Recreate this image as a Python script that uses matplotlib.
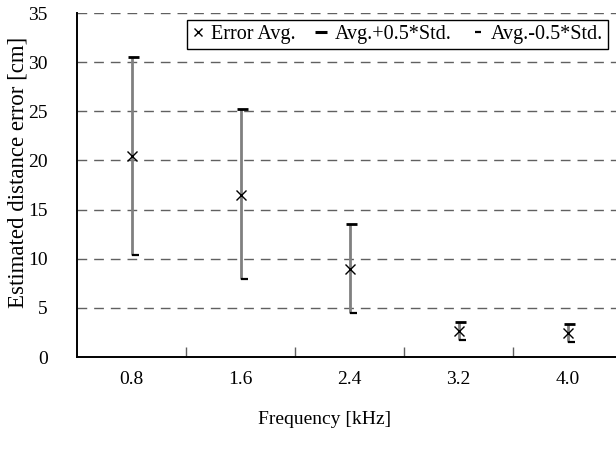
import numpy as np
import matplotlib
matplotlib.use("Agg")
import matplotlib.pyplot as plt
from matplotlib.lines import Line2D
from matplotlib.path import Path

# ---- data ----
freq_labels = ['0.8', '1.6', '2.4', '3.2', '4.0']
err_avg = [20.45, 16.5, 9.0, 2.65, 2.45]
avg_plus = [30.5, 25.2, 13.5, 3.55, 3.35]
avg_minus = [10.4, 7.9, 4.5, 1.75, 1.55]
y_ticks = [0, 5, 10, 15, 20, 25, 30, 35]
legend_labels = ['Error Avg.', 'Avg.+0.5*Std.', 'Avg.-0.5*Std.']

plt.rcParams['font.family'] = ['Liberation Serif', 'DejaVu Serif']

W, H = 616, 450
FS = 14
fig = plt.figure(figsize=(W / 100, H / 100), dpi=100)
ax_l, ax_r, ax_b, ax_t = 77, 622, 357, 13
ax = fig.add_axes([ax_l / W, (H - ax_b) / H, (ax_r - ax_l) / W, (ax_b - ax_t) / H])

x = np.arange(len(freq_labels))

# high-low lines
ax.vlines(x, avg_minus, avg_plus, colors='#808080', linewidth=2.0, zorder=3)

high_marker = Path([(-0.6, 0), (1.0, 0)], [Path.MOVETO, Path.LINETO])
low_marker = Path([(0.0, 0), (1.0, 0)], [Path.MOVETO, Path.LINETO])
ax.plot(x, avg_plus, linestyle='none', marker=high_marker, markersize=10,
        markeredgewidth=2.0, color='black', zorder=4)
ax.plot(x, avg_minus, linestyle='none', marker=low_marker, markersize=10,
        markeredgewidth=1.6, color='black', zorder=4)
ax.plot(x, err_avg, linestyle='none', marker='x', markersize=6.5,
        markeredgewidth=1.0, color='black', zorder=5)

ax.set_xlim(-0.5, len(freq_labels) - 0.5)
ax.set_ylim(0, 35)
ax.set_yticks(y_ticks)
ax.set_yticklabels([str(v) for v in y_ticks], fontsize=FS)
ax.tick_params(axis='y', length=0, pad=21)
ax.set_xticks(x)
ax.set_xticklabels(freq_labels, fontsize=FS)
ax.tick_params(axis='x', which='major', length=0, pad=10)
ax.set_xticks(np.arange(0.5, len(freq_labels) - 0.5, 1.0), minor=True)
ax.tick_params(axis='x', which='minor', direction='in', length=7, width=1.0, color='#606060')

for v in y_ticks[1:]:
    ax.axhline(v, color='#606060', linewidth=1.0, linestyle=(0, (7, 5)), zorder=1)

for s in ['top', 'right']:
    ax.spines[s].set_visible(False)
for s in ['left', 'bottom']:
    ax.spines[s].set_linewidth(1.4)
    ax.spines[s].set_color('black')

fig.text(18 / W, 1 - 172 / H, 'Estimated distance error [cm]', rotation=90,
         ha='center', va='center', fontsize=16.5)
fig.text(325 / W, 1 - 419 / H, 'Frequency [kHz]', ha='center', va='center', fontsize=FS)

handles = [
    Line2D([], [], linestyle='none', marker='x', markersize=6, markeredgewidth=1.0, color='black'),
    Line2D([], [], linestyle='none', marker='_', markersize=8, markeredgewidth=2.2, color='black'),
    Line2D([], [], linestyle='none', marker='_', markersize=5, markeredgewidth=1.6, color='black'),
]
leg = fig.legend(handles, legend_labels, loc='upper right', ncol=3,
                 bbox_to_anchor=(608 / W, 1 - 20 / H), fontsize=14.5,
                 frameon=True, fancybox=False, edgecolor='black', framealpha=1,
                 handlelength=0.6, handletextpad=0.35, columnspacing=1.0,
                 borderpad=0.25, borderaxespad=0)
leg.get_frame().set_linewidth(1.0)

fig.savefig('out.png', dpi=100)
